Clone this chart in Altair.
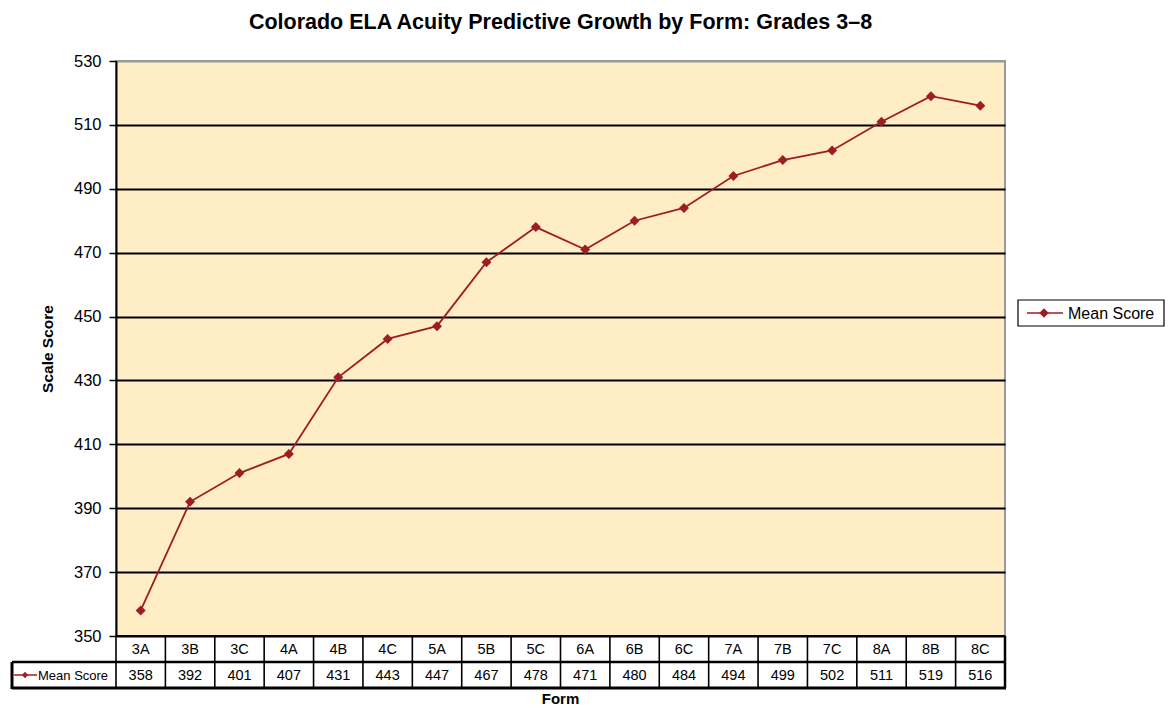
import altair as alt
import pandas as pd

forms = ["3A", "3B", "3C", "4A", "4B", "4C", "5A", "5B", "5C",
         "6A", "6B", "6C", "7A", "7B", "7C", "8A", "8B", "8C"]
mean_scores = [358, 392, 401, 407, 431, 443, 447, 467, 478,
               471, 480, 484, 494, 499, 502, 511, 519, 516]
series_name = "Mean Score"
y_ticks = [350, 370, 390, 410, 430, 450, 470, 490, 510, 530]

FONT = "Liberation Sans"
RED = "#9E1D25"
W, H = 889, 575
ROW = 26

df = pd.DataFrame({"form": forms, "score": mean_scores, "series": series_name})
one = pd.DataFrame({"series": [series_name]})

xscale = alt.Scale(type="band", domain=forms, paddingInner=0, paddingOuter=0)
yscale = alt.Scale(domain=[350, 530], nice=False, zero=False)

xc = alt.X("form:N", scale=xscale, axis=None, bandPosition=0.5, sort=forms)
xl = alt.X("form:N", scale=xscale, axis=None, bandPosition=0, sort=forms)

base = alt.Chart(df)

line = base.mark_line(color=RED, strokeWidth=1.8).encode(
    x=xc,
    y=alt.Y("score:Q", scale=yscale,
            axis=alt.Axis(values=y_ticks, title="Scale Score",
                          titleFont=FONT, titleFontSize=15.5, titleFontWeight="bold",
                          titleColor="black", titlePadding=18,
                          labelFont=FONT, labelFontSize=16.5, labelColor="black",
                          labelPadding=8, tickSize=7, tickColor="black", tickWidth=1.5,
                          domainColor="black", domainWidth=2,
                          grid=True,
                          gridColor=alt.condition("datum.value >= 530", alt.value("#999999"), alt.value("black")),
                          gridWidth=2)),
)
points = base.mark_point(shape="diamond", filled=True, size=100, color=RED, opacity=1).encode(
    x=xc, y=alt.Y("score:Q", scale=yscale)
)

# data table
cat_text = base.mark_text(font=FONT, fontSize=14.5, color="black", baseline="middle").encode(
    x=xc, y=alt.value(H + ROW / 2 + 1), text="form:N"
)
val_text = base.mark_text(font=FONT, fontSize=14.5, color="black", baseline="middle").encode(
    x=xc, y=alt.value(H + ROW * 1.5 + 1), text="score:Q"
)
vlines = base.mark_rule(color="black", strokeWidth=1.6).encode(
    x=xl, y=alt.value(H), y2=alt.value(H + 2 * ROW)
)
right_edge = alt.Chart(one).mark_rule(color="black", strokeWidth=2.5).encode(
    x=alt.value(W), y=alt.value(H), y2=alt.value(H + 2 * ROW)
)
hline_top = alt.Chart(one).mark_rule(color="black", strokeWidth=2).encode(
    x=alt.value(0), x2=alt.value(W), y=alt.value(H)
)
hline_mid = alt.Chart(one).mark_rule(color="black", strokeWidth=2.5).encode(
    x=alt.value(-104), x2=alt.value(W), y=alt.value(H + ROW)
)
hline_bot = alt.Chart(one).mark_rule(color="black", strokeWidth=3).encode(
    x=alt.value(-104), x2=alt.value(W + 1), y=alt.value(H + 2 * ROW)
)
left_edge = alt.Chart(one).mark_rule(color="black", strokeWidth=3).encode(
    x=alt.value(-104), y=alt.value(H + ROW), y2=alt.value(H + 2 * ROW + 1)
)
label_line = alt.Chart(one).mark_rule(color=RED, strokeWidth=1.5).encode(
    x=alt.value(-102), x2=alt.value(-79), y=alt.value(H + ROW * 1.5)
)
label_pt = alt.Chart(one).mark_point(shape="diamond", filled=True, size=40, color=RED, opacity=1).encode(
    x=alt.value(-91), y=alt.value(H + ROW * 1.5)
)
label_txt = alt.Chart(one).mark_text(font=FONT, fontSize=13, color="black", align="left",
                                     baseline="middle").encode(
    x=alt.value(-78), y=alt.value(H + ROW * 1.5 + 1), text="series:N"
)
form_title = alt.Chart(one).mark_text(font=FONT, fontSize=15, fontWeight="bold", color="black",
                                      align="center", baseline="middle").encode(
    x=alt.value(W / 2), y=alt.value(H + 2 * ROW + 11), text=alt.value("Form")
)

# legend
LX, LY = 902, 239
leg_box = alt.Chart(one).mark_rect(fill="white", stroke="black", strokeWidth=1.2).encode(
    x=alt.value(LX), x2=alt.value(LX + 146), y=alt.value(LY), y2=alt.value(LY + 26)
)
leg_line = alt.Chart(one).mark_rule(color=RED, strokeWidth=1.6).encode(
    x=alt.value(LX + 9), x2=alt.value(LX + 45), y=alt.value(LY + 13)
)
leg_pt = alt.Chart(one).mark_point(shape="diamond", filled=True, size=90, color=RED, opacity=1).encode(
    x=alt.value(LX + 26), y=alt.value(LY + 13)
)
leg_txt = alt.Chart(one).mark_text(font=FONT, fontSize=16, color="black", align="left",
                                   baseline="middle").encode(
    x=alt.value(LX + 50), y=alt.value(LY + 13.5), text="series:N"
)

chart = alt.layer(
    line, points, vlines, right_edge, hline_top, hline_mid, hline_bot, left_edge,
    cat_text, val_text, label_line, label_pt, label_txt, form_title,
    leg_box, leg_line, leg_pt, leg_txt,
).properties(
    width=W, height=H,
    autosize=alt.AutoSizeParams(type="none"),
    padding={"left": 108, "top": 53, "right": 162, "bottom": 74},
    title=alt.Title("Colorado ELA Acuity Predictive Growth by Form: Grades 3\u20138",
                    font=FONT, fontSize=21.5, fontWeight="bold", color="black",
                    anchor="middle", offset=20),
    background="white",
).configure_view(
    fill="#FFEDC6", stroke="#999999", strokeWidth=2
)

chart.save("out.html", embed_options={"renderer": "svg", "actions": False})
